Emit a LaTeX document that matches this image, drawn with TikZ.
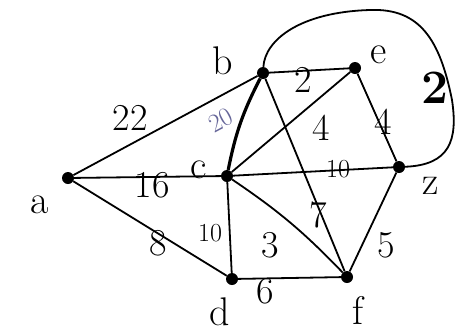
\documentclass[tikz,border=0pt]{standalone}
\usepackage{fontspec}
\begin{document}
\begin{tikzpicture}[x=1pt,y=-1pt,
  vtx/.style={circle,fill=black,inner sep=0pt,minimum size=12pt},
  edge/.style={line width=1.8pt,black},
  lbl/.style={font=\fontsize{40}{40}\selectfont,inner sep=0pt},
  wt/.style={font=\fontsize{38}{38}\selectfont,inner sep=0pt},
  smallwt/.style={font=\fontsize{26}{26}\selectfont,inner sep=0pt}]
\useasboundingbox (0,0) rectangle (457,333);
\node[vtx] (a) at (68,178) {};
\node[vtx] (b) at (263,73) {};
\node[vtx] (c) at (227,176) {};
\node[vtx] (e) at (355,68) {};
\node[vtx] (z) at (399,167) {};
\node[vtx] (d) at (232,279) {};
\node[vtx] (f) at (347,277) {};
% edges
\draw[edge] (a) -- (b);
\draw[edge] (a) -- (c);
\draw[edge] (a) -- (d);
\draw[line width=3.2pt] (b) to[bend right=8] (c);
\draw[edge] (b) -- (e);
\draw[edge] (b) -- (f);
\draw[edge] (c) -- (e);
\draw[edge] (c) -- (z);
\draw[edge] (c) -- (d);
\draw[edge] (c) to[bend left=6] (f);
\draw[edge] (e) -- (z);
\draw[edge] (d) -- (f);
\draw[edge] (f) -- (z);
\draw[edge] (b) .. controls (265,40) and (300,12) .. (370,10)
  .. controls (420,8) and (440,40) .. (452,100)
  .. controls (458,140) and (450,165) .. (z);
% vertex labels
\node[lbl] (la) at (40,205) {a};
\node[lbl] (lb) at (223,61) {b};
\node[lbl] (lc) at (199,170) {c};
\node[lbl] (le) at (379,55) {e};
\node[lbl] (lz) at (431,186) {z};
\node[lbl] (ld) at (220,312) {d};
\node[lbl] (lf) at (358,310) {f};
% weights
\node[wt] (w22) at (130,118) {22};
\node[wt] (w16) at (152,185) {16};
\node[wt] (w8) at (158,243) {8};
\node[smallwt] (w10a) at (210,233) {10};
\node[smallwt,text=gray!80!blue,rotate=28] (w20) at (221,120) {20};
\node[wt] (w2a) at (303,80) {2};
\node[wt] (w4a) at (321,128) {4};
\node[wt] (w4b) at (383,122) {4};
\node[smallwt] (w10b) at (338,169) {10};
\node[wt] (w7) at (318,215) {7};
\node[wt] (w3) at (270,245) {3};
\node[wt] (w5) at (386,245) {5};
\node[wt] (w6) at (265,291) {6};
\node[font=\fontsize{48}{48}\selectfont\bfseries,inner sep=0pt] (w2b) at (435,88) {2};
\end{tikzpicture}
\end{document}
